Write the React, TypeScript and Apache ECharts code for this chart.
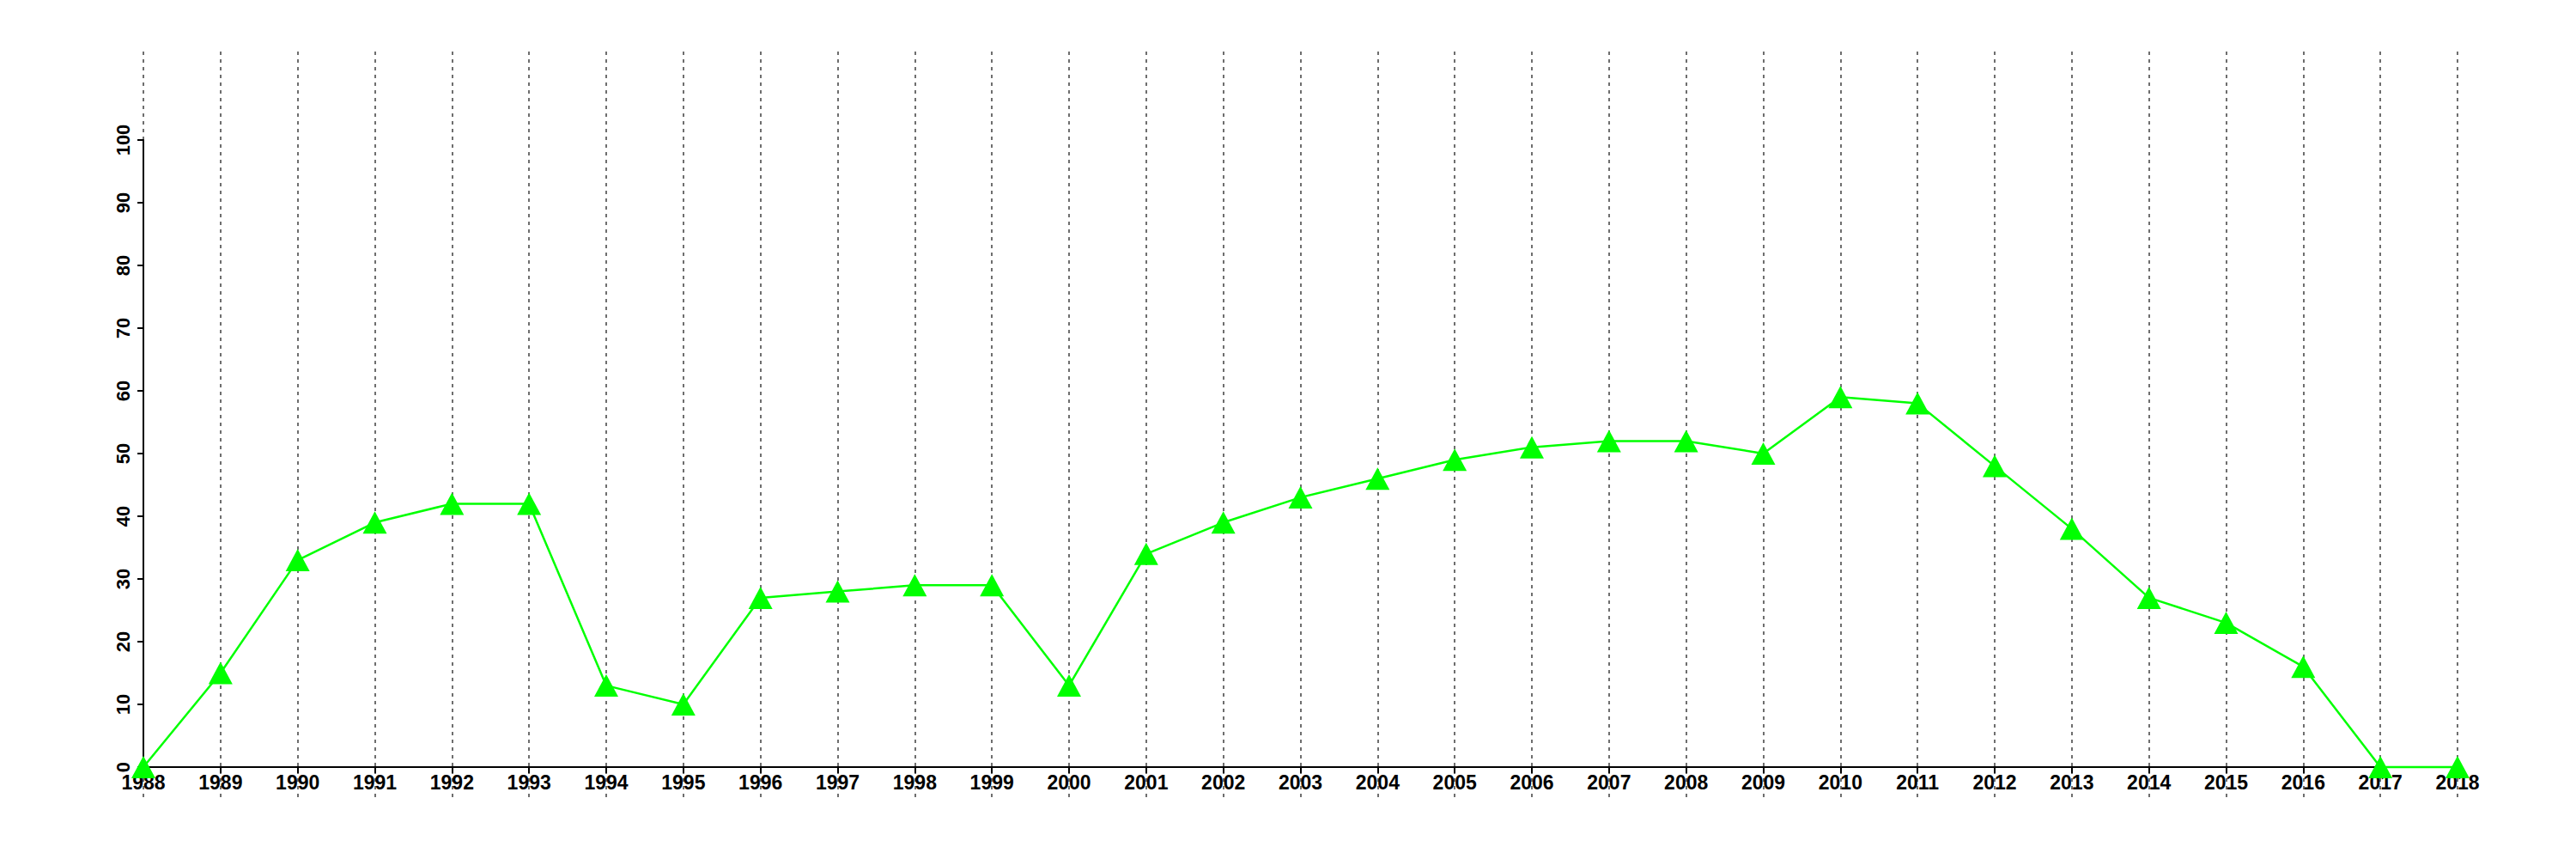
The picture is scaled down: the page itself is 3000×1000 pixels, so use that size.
import React, { useEffect, useRef } from "react";
import * as echarts from "echarts";

const years: string[] = [
  "1988", "1989", "1990", "1991", "1992", "1993", "1994", "1995", "1996", "1997",
  "1998", "1999", "2000", "2001", "2002", "2003", "2004", "2005", "2006", "2007",
  "2008", "2009", "2010", "2011", "2012", "2013", "2014", "2015", "2016", "2017", "2018",
];

const values: number[] = [
  0, 15, 33, 39, 42, 42, 13, 10, 27, 28,
  29, 29, 13, 34, 39, 43, 46, 49, 51, 52,
  52, 50, 59, 58, 48, 38, 27, 23, 16, 0, 0,
];

const yMin = 0;
const yMax = 100;
const yInterval = 10;

export default function App() {
  const ref = useRef<HTMLDivElement>(null);
  useEffect(() => {
    document.body.style.margin = "0";
    if (!ref.current) return;
    const chart = echarts.init(ref.current, undefined, { renderer: "svg" });
    const font = "'Liberation Sans', Arial, Helvetica, sans-serif";
    chart.setOption({
      animation: false,
      backgroundColor: "#ffffff",
      grid: [
        { left: 167, right: 138, top: 163, bottom: 107 },
        { left: 167, right: 138, top: 60, bottom: 72 },
      ],
      xAxis: [
        {
          type: "category",
          gridIndex: 0,
          data: years,
          boundaryGap: false,
          axisLine: { show: true, lineStyle: { color: "#000", width: 2 } },
          axisTick: { show: true, alignWithLabel: true, length: 7, lineStyle: { color: "#000", width: 2 } },
          axisLabel: {
            show: true,
            interval: 0,
            color: "#000",
            fontSize: 23,
            fontWeight: "bold",
            fontFamily: font,
            margin: 6,
          },
          splitLine: { show: false },
          z: 3,
        },
        {
          type: "category",
          gridIndex: 1,
          data: years,
          boundaryGap: false,
          axisLine: { show: false },
          axisTick: { show: false },
          axisLabel: { show: false },
          splitLine: {
            show: true,
            interval: 0,
            lineStyle: { color: "#6e6e6e", width: 2, type: [4, 5] },
          },
        },
      ],
      yAxis: [
        {
          type: "value",
          gridIndex: 0,
          min: yMin,
          max: yMax,
          interval: yInterval,
          axisLine: { show: true, lineStyle: { color: "#000", width: 2 } },
          axisTick: { show: true, length: 7, lineStyle: { color: "#000", width: 2 } },
          axisLabel: {
            show: true,
            rotate: 90,
            color: "#000",
            fontSize: 22,
            fontWeight: "bold",
            fontFamily: font,
            margin: 13,
          },
          splitLine: { show: false },
          z: 3,
        },
        {
          type: "value",
          gridIndex: 1,
          min: 0,
          max: 1,
          show: false,
        },
      ],
      series: [
        {
          type: "line",
          xAxisIndex: 1,
          yAxisIndex: 1,
          data: [],
          silent: true,
        },
        {
          type: "line",
          xAxisIndex: 0,
          yAxisIndex: 0,
          data: values,
          symbol: "triangle",
          symbolSize: [28, 26],
          showAllSymbol: true,
          clip: false,
          lineStyle: { color: "#00ff00", width: 2.5 },
          itemStyle: { color: "#00ff00" },
          z: 5,
        },
      ],
    });
    return () => chart.dispose();
  }, []);
  return (
    <div
      ref={ref}
      style={{ position: "absolute", left: 0, top: 0, width: 3000, height: 1000 }}
    />
  );
}
